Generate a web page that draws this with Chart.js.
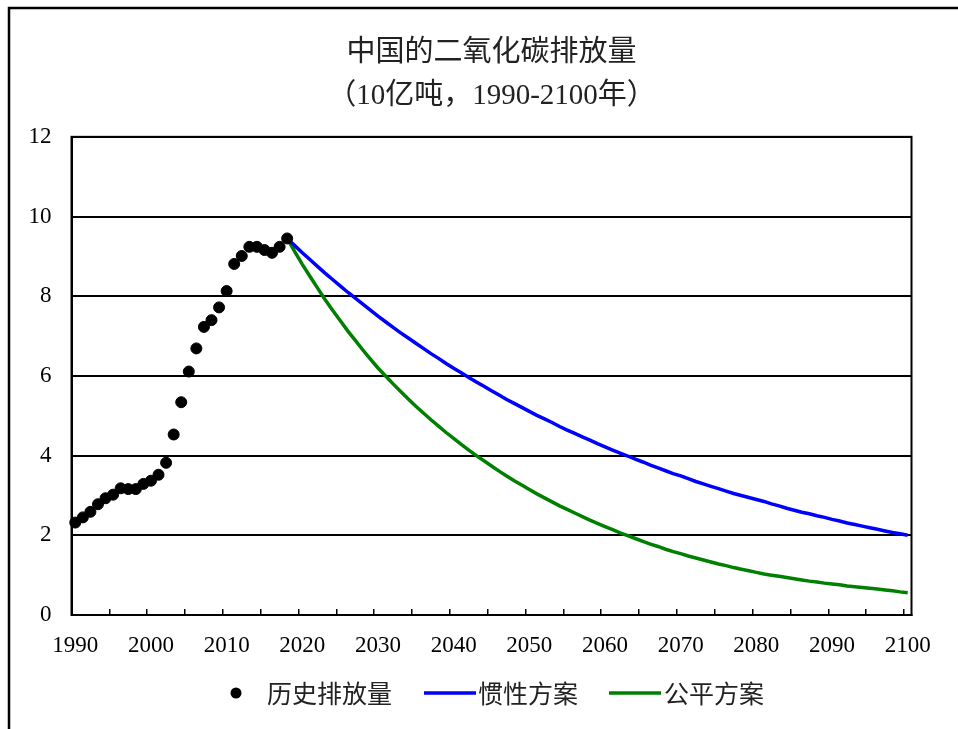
<!DOCTYPE html>
<html>
<head>
<meta charset="utf-8">
<script src="https://cdn.jsdelivr.net/npm/chart.js@4/dist/chart.umd.min.js"></script>
<style>
  html, body { margin: 0; padding: 0; background: #fff; }
  canvas { display: block; }
</style>
</head>
<body>
<canvas id="c" width="958" height="729"></canvas>
<script>
// ---- Data (10亿吨) ----
const titleLines = ['中国的二氧化碳排放量', '（10亿吨，1990-2100年）'];
const seriesNames = ['历史排放量', '惯性方案', '公平方案'];
const firstYear = 1990;
const lastYear = 2100;
const yTicks = [0, 2, 4, 6, 8, 10, 12];

const histYears = [1990,1991,1992,1993,1994,1995,1996,1997,1998,1999,2000,2001,2002,2003,2004,2005,2006,2007,2008,2009,2010,2011,2012,2013,2014,2015,2016,2017,2018];
const histValues = [2.32,2.45,2.59,2.78,2.93,3.02,3.18,3.16,3.16,3.29,3.37,3.52,3.82,4.53,5.34,6.11,6.69,7.23,7.40,7.72,8.13,8.81,9.01,9.24,9.24,9.16,9.09,9.24,9.45];

const projYears = [2018,2019,2020,2021,2022,2023,2024,2025,2026,2027,2028,2029,2030,2031,2032,2033,2034,2035,2036,2037,2038,2039,2040,2041,2042,2043,2044,2045,2046,2047,2048,2049,2050,2051,2052,2053,2054,2055,2056,2057,2058,2059,2060,2061,2062,2063,2064,2065,2066,2067,2068,2069,2070,2071,2072,2073,2074,2075,2076,2077,2078,2079,2080,2081,2082,2083,2084,2085,2086,2087,2088,2089,2090,2091,2092,2093,2094,2095,2096,2097,2098,2099,2100];

const inertiaValues = [9.45,9.27,9.09,8.92,8.75,8.58,8.42,8.26,8.10,7.95,7.80,7.65,7.50,7.36,7.22,7.08,6.95,6.82,6.69,6.56,6.44,6.31,6.19,6.08,5.96,5.85,5.74,5.63,5.52,5.41,5.31,5.21,5.11,5.01,4.92,4.83,4.73,4.64,4.56,4.47,4.39,4.30,4.22,4.14,4.06,3.99,3.91,3.84,3.76,3.69,3.62,3.55,3.49,3.42,3.35,3.29,3.23,3.17,3.11,3.05,3.00,2.95,2.90,2.85,2.79,2.74,2.68,2.63,2.58,2.54,2.49,2.45,2.40,2.36,2.31,2.27,2.23,2.19,2.15,2.11,2.07,2.04,2.00];

const equityValues = [9.45,9.12,8.80,8.50,8.21,7.92,7.65,7.39,7.13,6.89,6.65,6.42,6.20,6.00,5.80,5.61,5.42,5.24,5.07,4.90,4.74,4.58,4.43,4.28,4.14,4.00,3.87,3.74,3.61,3.49,3.37,3.26,3.15,3.04,2.94,2.84,2.74,2.65,2.56,2.47,2.38,2.30,2.22,2.14,2.06,1.99,1.92,1.85,1.78,1.72,1.65,1.59,1.54,1.48,1.43,1.38,1.33,1.28,1.24,1.19,1.15,1.11,1.07,1.03,1.00,0.97,0.94,0.91,0.88,0.85,0.83,0.80,0.78,0.76,0.73,0.71,0.69,0.67,0.65,0.63,0.61,0.58,0.56];

// ---- Build ----
const yearLabels = [];
for (let y = firstYear; y <= lastYear; y++) yearLabels.push(String(y));
const toPts = (xs, vs) => xs.map((x, i) => ({ x: String(x), y: vs[i] }));

const SERIF = "'Liberation Serif', 'Times New Roman', 'Noto Sans CJK SC', serif";
const CJK = "'Liberation Serif', 'Noto Sans CJK SC', sans-serif";

const framePlugin = {
  id: 'frame',
  beforeDraw(chart) {
    const ctx = chart.ctx;
    ctx.save();
    ctx.strokeStyle = '#000';
    ctx.lineWidth = 2.5;
    ctx.beginPath();
    ctx.moveTo(9, 729);
    ctx.lineTo(9, 8);
    ctx.lineTo(958, 8);
    ctx.stroke();
    ctx.restore();
  },
  afterDatasetsDraw(chart) {
    const a = chart.chartArea;
    const ctx = chart.ctx;
    ctx.save();
    ctx.strokeStyle = '#000';
    ctx.lineWidth = 2;
    ctx.strokeRect(a.left, a.top, a.right - a.left, a.bottom - a.top);
    ctx.restore();
  }
};

const legendPlugin = {
  id: 'customLegend',
  afterDraw(chart) {
    const ctx = chart.ctx;
    const ds = chart.data.datasets;
    const y = 693;
    ctx.save();
    ctx.font = "25px 'Noto Sans CJK SC', sans-serif";
    ctx.textBaseline = 'middle';
    // historical: dot
    ctx.beginPath();
    ctx.arc(236, y, 5.5, 0, Math.PI * 2);
    ctx.fillStyle = ds[0].backgroundColor;
    ctx.fill();
    ctx.fillStyle = '#222';
    ctx.fillText(ds[0].label, 267, y);
    // inertia line
    ctx.lineWidth = 3.5;
    ctx.strokeStyle = ds[1].borderColor;
    ctx.beginPath(); ctx.moveTo(424, y); ctx.lineTo(476, y); ctx.stroke();
    ctx.fillText(ds[1].label, 478, y);
    // equity line
    ctx.strokeStyle = ds[2].borderColor;
    ctx.beginPath(); ctx.moveTo(609, y); ctx.lineTo(661, y); ctx.stroke();
    ctx.fillText(ds[2].label, 664, y);
    ctx.restore();
  }
};

new Chart(document.getElementById('c'), {
  type: 'line',
  data: {
    labels: yearLabels,
    datasets: [
      {
        label: seriesNames[0],
        data: toPts(histYears, histValues),
        showLine: false,
        pointRadius: 5.5,
        pointHoverRadius: 5.5,
        pointBackgroundColor: '#000',
        pointBorderColor: '#000',
        backgroundColor: '#000',
        borderColor: '#000',
        order: 0
      },
      {
        label: seriesNames[1],
        data: toPts(projYears, inertiaValues),
        borderColor: '#0000FF',
        backgroundColor: '#0000FF',
        borderWidth: 3.5,
        pointRadius: 0,
        tension: 0,
        order: 1
      },
      {
        label: seriesNames[2],
        data: toPts(projYears, equityValues),
        borderColor: '#008000',
        backgroundColor: '#008000',
        borderWidth: 3.5,
        pointRadius: 0,
        tension: 0,
        order: 2
      }
    ]
  },
  options: {
    responsive: false,
    devicePixelRatio: 1,
    animation: false,
    layout: { padding: { left: 25, right: 0, top: 0, bottom: 0 } },
    plugins: {
      legend: { display: false },
      tooltip: { enabled: false },
      title: {
        display: true,
        text: titleLines,
        color: '#222',
        font: { family: CJK, size: 29, weight: 'normal', lineHeight: 1.48 },
        padding: { top: 32, bottom: 19 }
      }
    },
    scales: {
      x: {
        type: 'category',
        offset: true,
        afterFit(scale) { scale.height = 114; },
        grid: {
          offset: true,
          drawOnChartArea: false,
          drawTicks: true,
          tickLength: -6,
          lineWidth: 1.5,
          color: (c) => (c.index > 0 && c.index % 5 === 0 && c.index < yearLabels.length) ? '#000' : 'rgba(0,0,0,0)'
        },
        border: { display: true, color: '#000', width: 2 },
        ticks: {
          autoSkip: false,
          maxRotation: 0,
          minRotation: 0,
          padding: 23,
          color: '#000',
          font: { family: SERIF, size: 23 },
          callback: function (v, i) {
            const lab = this.getLabelForValue(v);
            return (Number(lab) % 10 === 0) ? lab : '';
          }
        }
      },
      y: {
        min: 0,
        max: 12,
        afterFit(scale) { scale.width = 46.5; },
        afterBuildTicks(scale) { scale.ticks = yTicks.map(v => ({ value: v })); },
        grid: { color: '#000', lineWidth: 2, drawTicks: false },
        border: { display: true, color: '#000', width: 2 },
        ticks: {
          padding: 20,
          color: '#000',
          font: { family: SERIF, size: 23 }
        }
      },
      yRight: {
        position: 'right',
        min: 0,
        max: 12,
        afterFit(scale) { scale.width = 46.5; },
        grid: { display: false, drawOnChartArea: false, drawTicks: false },
        border: { display: false },
        ticks: { display: false }
      }
    }
  },
  plugins: [framePlugin, legendPlugin]
});
</script>
</body>
</html>
